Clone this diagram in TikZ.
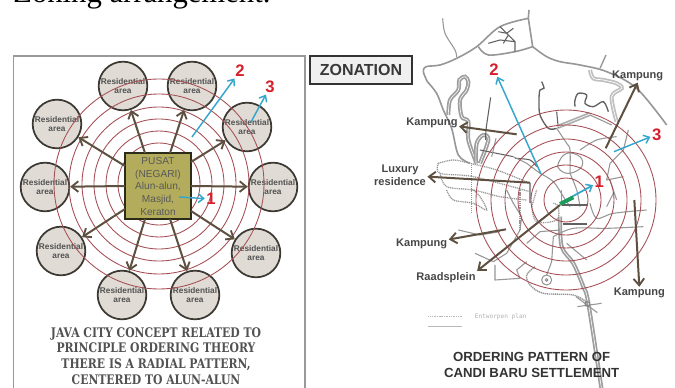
\documentclass[tikz,border=0pt]{standalone}
\usepackage{fontspec}
\setmainfont{Liberation Sans}
\newfontfamily\titlefont{Liberation Serif}
\newfontfamily\slabfont[FakeStretch=0.82]{DejaVu Serif}
\newfontfamily\legendfont{DejaVu Sans Mono}
\usetikzlibrary{arrows.meta}
\definecolor{ringc}{HTML}{A54F55}
\definecolor{brownc}{HTML}{5E5040}
\definecolor{bluec}{HTML}{35A6CC}
\definecolor{redc}{HTML}{D5202C}
\definecolor{circfill}{HTML}{E0DCD5}
\definecolor{circdraw}{HTML}{3C3832}
\definecolor{sqfill}{HTML}{B2AC5C}
\definecolor{roadc}{HTML}{979797}
\definecolor{greenc}{HTML}{1E9A5A}
\tikzset{
  x=.75pt,y=-.75pt,
  ring/.style={draw=ringc,line width=.65pt},
  resid/.style={circle,draw=circdraw,fill=circfill,line width=1.3pt,minimum size=36.5pt,inner sep=0pt,align=center,
     text=black!68,font=\fontsize{6.2}{7.4}\selectfont\bfseries},
  brownarrow/.style={draw=brownc,line width=1.5pt,-{Straight Barb[length=5pt,width=8pt,line width=1.4pt]}},
  bluearrow/.style={draw=bluec,line width=1.1pt,-{Straight Barb[length=4pt,width=6.5pt,line width=1.1pt]}},
  num/.style={text=redc,font=\fontsize{12.5}{13}\selectfont\bfseries,inner sep=1pt},
  maplabel/.style={text=black!72,font=\fontsize{8.3}{10}\selectfont\bfseries,inner sep=1pt,align=center},
  zthree/.style={shift={(340,0)},x=.25pt,y=-.25pt},
  zfour/.style={shift={(340,190)},x=.25pt,y=-.25pt},
  road/.style={draw=roadc,line width=.8pt,line join=round},
  main/.style={draw=roadc,line width=1.2pt,line join=round},
  twin/.style={draw=black!38,line width=1.3pt,double=white,double distance=.45pt},
  paletwin/.style={draw=black!25,line width=1.3pt,double=white,double distance=.5pt},
  darkroad/.style={draw=black!62,line width=.8pt},
  dotroad/.style={draw=black!42,line width=.95pt,dash pattern=on .8pt off .6pt},
}
\newcommand{\crv}[2]{\draw[#1] plot[smooth,tension=.55] coordinates {#2};}
\begin{document}
\begin{tikzpicture}
\clip (0,0) rectangle (675,388);
\fill[white] (0,0) rectangle (675,388);
% heading
\node[anchor=base west,inner sep=0pt,font=\titlefont\fontsize{23}{24}\selectfont] (heading) at (13,3) {Zoning arrangement.};
% left panel
\draw[draw=black!40,line width=1.1pt,fill=white] (13.5,56) rectangle (305,400);
\foreach \n/\p in {r1/{123,86},r2/{192,86},r3/{247,127},r4/{273,187},r5/{256,253},r6/{195,295},r7/{122,295},r8/{61,251},r9/{45,187},r10/{57,124}}{
  \node[resid] (\n) at (\p) {Residential\\area};
}
\foreach \r in {105,90,77,65,53,41}{
  \draw[ring] (159,184) circle[radius=\r];
}
\node[draw=black!75!sqfill,fill=sqfill,line width=1.4pt,minimum width=49pt,minimum height=49pt,inner sep=0pt] (pusat) at (158,186) {};
\node[align=center,inner sep=0pt,text=black!65,font=\fontsize{7.6}{9.7}\selectfont] (pusattext) at (158,186.5) {PUSAT\\(NEGARI)\\Alun-alun,\\Masjid,\\Keraton};
\foreach \n/\p in {s1/{145,153},s2/{170,153},s3/{191,162},s4/{191,186},s5/{191,211},s6/{170,219},s7/{145,219},s8/{125,209},s9/{125,186},s10/{125,166}}{
  \coordinate (\n) at (\p);
}
\foreach \i in {1,...,10}{
  \draw[brownarrow] (s\i) -- (r\i);
}
\node[num] (a2) at (240,71) {2};
\node[num] (a3) at (270,87) {3};
\node[num] (a1) at (211,199) {1};
\coordinate (b2) at (192,137);
\coordinate (b3) at (251,122);
\coordinate (b1) at (179,197);
\draw[bluearrow] (b2) -- (a2);
\draw[bluearrow] (b3) -- (a3);
\draw[bluearrow] (b1) -- (a1);
\node[align=center,inner sep=0pt,text=black!68,font=\slabfont\bfseries\fontsize{9.9}{11.8}\selectfont] (caption) at (156,356)
  {JAVA CITY CONCEPT RELATED TO\\PRINCIPLE ORDERING THEORY\\THERE IS A RADIAL PATTERN,\\CENTERED TO ALUN-ALUN};
% zonation box
\node[draw=black!80,fill=black!6,line width=1.3pt,minimum width=77pt,minimum height=21.5pt,inner sep=0pt,
  text=black!78,font=\fontsize{12}{13}\selectfont\bfseries] (zonation) at (361,70) {ZONATION};
% map roads, upper part
\begin{scope}[zthree]
\crv{road}{(308,55)(315,100)(345,150)(350,172)}
\crv{main}{(262,245)(250,215)(258,200)(300,195)(350,175)(410,140)(480,80)(565,55)}
\draw[main] (567,30) -- (565,55) -- (578,140);
\crv{main}{(578,140)(620,170)(660,185)(720,195)(800,215)(890,265)(980,375)}
\draw[road,line width=1pt] (798,165) -- (780,205);
\crv{main}{(415,140)(445,165)(525,155)(578,140)}
\draw[darkroad] (480,80) -- (525,125) -- (525,155) (445,130) -- (480,120) -- (525,125) (475,95) -- (500,100) -- (520,85) (490,130) -- (505,105);
\crv{paletwin}{(750,210)(760,235)(790,240)(830,250)(845,265)(815,290)(830,365)}
\crv{main}{(262,245)(290,280)(310,330)(335,385)(355,465)(390,490)}
\crv{twin}{(325,345)(330,300)(355,270)(358,240)(375,230)(385,245)(380,270)(360,300)(365,350)(385,365)(385,420)(410,490)}
\crv{twin}{(408,490)(410,430)(430,405)(445,420)(420,490)}
\crv{darkroad}{(452,292)(445,340)(438,390)(437,420)}
\crv{{draw=black!62,line width=1pt}}{(605,245)(612,265)(600,270)(597,300)(600,345)(625,385)(650,385)}
\crv{road}{(650,385)(680,430)(690,450)(690,520)}
\draw[darkroad] (650,335) -- (655,385);
\crv{{draw=black!62,line width=1pt}}{(705,320)(705,300)(715,280)(740,285)(735,310)(760,320)(790,305)(805,335)}
\draw[twin,draw=black!32] (655,380) -- (750,342);
\draw[road] (750,345) -- (815,375);
\crv{road}{(720,450)(770,420)(830,410)}
\draw[road] (810,490) -- (850,450) -- (865,390);
\draw[road] (810,490) -- (800,540) -- (850,530);
\draw[road] plot[smooth cycle,tension=.7] coordinates {(655,490)(680,460)(720,470)(725,500)(690,520)(660,510)};
\draw[darkroad] (420,450) -- (520,470);
\crv{darkroad}{(525,475)(570,480)(590,500)}
\draw[road] (520,470) -- (560,490) -- (600,520);
\draw[road] (468,415) -- (455,470);
\crv{dotroad}{(295,490)(340,480)(390,490)(470,510)(570,550)}
\crv{dotroad}{(295,490)(300,520)(400,530)(570,575)}
\crv{dotroad}{(300,520)(320,560)(400,570)(480,590)(560,600)}
\draw[dotroad] (395,490) -- (395,640);
\crv{road}{(600,520)(640,545)(670,590)(690,620)}
\draw[road] (570,550) -- (570,610);
\crv{road}{(690,520)(710,570)(720,620)}
\draw[road] (810,540) -- (830,600);
\end{scope}
% map roads, lower part
\begin{scope}[zfour]
\crv{dotroad}{(320,0)(340,30)(400,40)(440,60)(420,20)(400,0)}
\draw[road] (355,120) -- (420,135) -- (480,125);
\draw[road] (405,190) -- (460,215) -- (500,190) -- (540,120) -- (545,80) -- (520,40) -- (500,0);
\draw[road] (465,225) -- (465,270) -- (540,265) -- (530,240) -- (560,215);
\crv{{draw=black!42,line width=1pt,dash pattern=on 1pt off .5pt}}{(585,230)(560,255)(570,285)(610,310)(700,315)(745,340)}
\draw[draw=black!45,line width=.7pt] (620,270) circle[radius=15];
\draw[draw=black!45,line width=.7pt] (620,270) circle[radius=4];
\draw[road] (620,255) -- (635,215) -- (640,140);
\crv{twin}{(660,80)(665,170)(700,220)(730,290)(745,340)(785,600)}
\draw[road] (712,350) -- (785,340) (708,320) -- (772,368);
\draw[draw=black!50,line width=.7pt] (742,342) circle[radius=7];
\draw[dotroad] (575,50) -- (590,0);
\crv{dotroad}{(575,50)(590,95)(650,90)(655,50)(640,40)}
\draw[darkroad] (665,45) -- (745,45) (670,102) -- (740,102);
\draw[road] (665,45) -- (665,0);
\crv{road}{(750,40)(770,85)(820,70)(920,60)}
\draw[road] (800,50) -- (820,10);
\crv{road}{(640,140)(700,115)(800,115)(910,110)}
\draw[road] (560,160) -- (600,125) -- (660,120);
\draw[road] (680,160) -- (740,210);
\draw[dotroad] (540,120) -- (540,0);
\end{scope}
% rings of the map
\foreach \r in {90,75,61,48,35,22}{
  \draw[ring] (566,200) circle[radius=\r];
}
% labels and arrows of the map
\begin{scope}[zthree]
\node[maplabel] (kNE) at (893,228) {Kampung};
\node[maplabel] (kNW) at (276,368) {Kampung};
\node[maplabel] (lux) at (180,525) {Luxury\\residence};
\node[num] (m2) at (462,208) {2};
\node[num] (m3) at (950,403) {3};
\node[num] (m1) at (778,545) {1};
\coordinate (fNE) at (797,445);
\coordinate (fNW) at (530,403);
\coordinate (fLux) at (570,548);
\coordinate (f2) at (603,522);
\coordinate (f3) at (822,455);
\coordinate (f1) at (660,610);
\end{scope}
\begin{scope}[zfour]
\node[maplabel] (kSW) at (245,163) {Kampung};
\node[maplabel] (raad) at (318,263) {Raadsplein};
\node[maplabel] (kSE) at (898,310) {Kampung};
\coordinate (fSW) at (498,118);
\coordinate (fRaad) at (660,45);
\coordinate (fSE) at (883,30);
\coordinate (g1) at (660,42);
\coordinate (g2) at (700,22);
\node[text=black!30,inner sep=0pt,font=\legendfont\fontsize{4.6}{5}\selectfont] (legend) at (482,380) {Entworpen plan};
\coordinate (l1) at (265,380);
\coordinate (l2) at (365,380);
\coordinate (l3) at (265,408);
\coordinate (l4) at (365,408);
\node[align=center,inner sep=0pt,text=black!80,font=\fontsize{9.9}{12}\selectfont\bfseries] (mapcap) at (575,524) {ORDERING PATTERN OF\\CANDI BARU SETTLEMENT};
\end{scope}
\draw[draw=black!28,line width=1pt,dash pattern=on .8pt off .5pt] (l1) -- (l2);
\draw[draw=black!28,line width=.6pt] (l3) -- (l4);
\draw[bluearrow] (f2) -- (m2);
\draw[bluearrow] (f3) -- (m3);
\draw[bluearrow,line width=1.3pt] (f1) -- (m1);
\draw[draw=greenc,line width=3pt] (g1) -- (g2);
\draw[brownarrow] (fNE) -- (kNE.south);
\draw[brownarrow] (fNW) -- (kNW);
\draw[brownarrow] (fLux) -- (lux);
\draw[brownarrow] (fSW) -- (kSW);
\draw[brownarrow] (fRaad) -- (raad.north east);
\draw[brownarrow] (fSE) -- (kSE.north);
\end{tikzpicture}
\end{document}
